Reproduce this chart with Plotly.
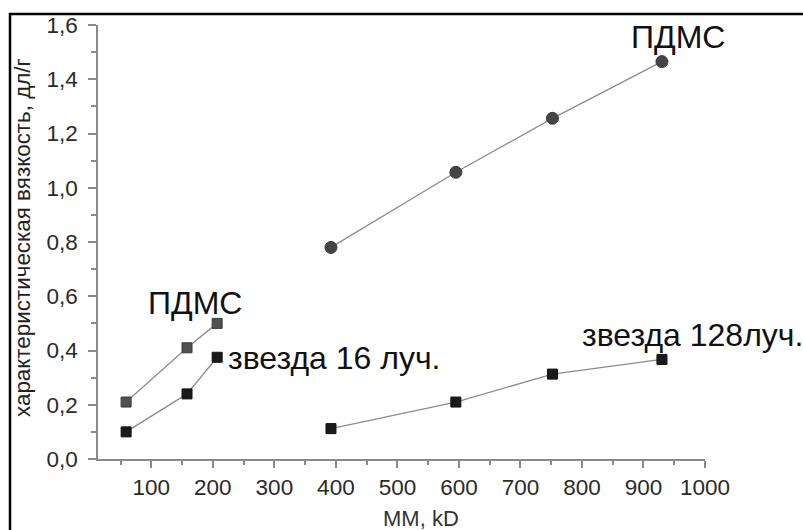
import plotly.graph_objects as go

# ---- data ----
mm_small = [59, 158, 207]
pdms_small = [0.21, 0.41, 0.50]
star16 = [0.10, 0.24, 0.375]

mm_large = [392, 595, 752, 930]
pdms_large = [0.78, 1.057, 1.256, 1.465]
star128 = [0.112, 0.21, 0.313, 0.367]

x_ticks = [100, 200, 300, 400, 500, 600, 700, 800, 900, 1000]
x_ticktext = ["100", "200", "300", "400", "500", "600", "700", "800", "900", "1000"]
y_ticks = [0.0, 0.2, 0.4, 0.6, 0.8, 1.0, 1.2, 1.4, 1.6]
y_ticktext = ["0,0", "0,2", "0,4", "0,6", "0,8", "1,0", "1,2", "1,4", "1,6"]

labels = ["ПДМС", "звезда 16 луч.", "ПДМС", "звезда 128луч."]
x_title = "MM, kD"
y_title = "характеристическая вязкость, дл/г"

# ---- layout geometry (pixels) ----
W, H = 803, 530
L, R, T, B = 98, 705, 25, 459


def px(x):
    return (x - L) / (R - L)


def py(y):
    return (B - y) / (B - T)


FONT = "Liberation Sans, Arial, sans-serif"
LINE = "#8c8c8c"

fig = go.Figure()

fig.add_trace(go.Scatter(
    x=mm_small, y=pdms_small, mode="lines+markers",
    line=dict(color=LINE, width=1.3),
    marker=dict(symbol="square", size=10, color="#505050",
                line=dict(color="#3a3a3a", width=1)),
    showlegend=False, cliponaxis=False))
fig.add_trace(go.Scatter(
    x=mm_small, y=star16, mode="lines+markers",
    line=dict(color=LINE, width=1.3),
    marker=dict(symbol="square", size=10, color="#1a1a1a",
                line=dict(color="#111111", width=1)),
    showlegend=False, cliponaxis=False))
fig.add_trace(go.Scatter(
    x=mm_large, y=pdms_large, mode="lines+markers",
    line=dict(color=LINE, width=1.3),
    marker=dict(symbol="circle", size=12, color="#454545",
                line=dict(color="#3a3a3a", width=1)),
    showlegend=False, cliponaxis=False))
fig.add_trace(go.Scatter(
    x=mm_large, y=star128, mode="lines+markers",
    line=dict(color=LINE, width=1.3),
    marker=dict(symbol="square", size=10, color="#1a1a1a",
                line=dict(color="#111111", width=1)),
    showlegend=False, cliponaxis=False))

axis_common = dict(
    showgrid=False, zeroline=False, showline=True,
    linecolor="#8a8a8a", linewidth=1.5,
    ticks="outside", tickcolor="#8a8a8a", tickwidth=1.5,
    tickfont=dict(family=FONT, size=22.5, color="#2a2a2a"),
)

fig.update_xaxes(
    range=[13.3, 1000], tickmode="array", tickvals=x_ticks, ticktext=x_ticktext,
    ticklen=7,
    minor=dict(dtick=50, tick0=0, ticks="outside", ticklen=4,
               tickcolor="#8a8a8a", tickwidth=1.5),
    **axis_common)
fig.update_yaxes(
    range=[0, 1.6], tickmode="array", tickvals=y_ticks, ticktext=y_ticktext,
    ticklen=8, ticklabelstandoff=6,
    minor=dict(dtick=0.1, tick0=0, ticks="outside", ticklen=5,
               tickcolor="#8a8a8a", tickwidth=1.5),
    **axis_common)

ann_font = dict(family=FONT, size=32, color="#111111")
annotations = [
    dict(text=labels[0], x=px(195), y=py(303), xanchor="center", yanchor="middle"),
    dict(text=labels[1], x=px(226), y=py(358), xanchor="left", yanchor="middle"),
    dict(text=labels[2], x=px(678), y=py(37), xanchor="center", yanchor="middle"),
    dict(text=labels[3], x=px(580), y=py(335), xanchor="left", yanchor="middle"),
]
for a in annotations:
    a.update(xref="paper", yref="paper", showarrow=False, font=ann_font)

annotations.append(dict(
    text=x_title, x=px(421), y=py(518), xref="paper", yref="paper",
    xanchor="center", yanchor="middle", showarrow=False,
    font=dict(family=FONT, size=22, color="#333333")))
annotations.append(dict(
    text=y_title, x=px(22), y=py(238), xref="paper", yref="paper",
    xanchor="center", yanchor="middle", showarrow=False, textangle=-90,
    font=dict(family=FONT, size=22.4, color="#222222")))

fig.update_layout(
    width=W, height=H,
    margin=dict(l=L, r=W - R, t=T, b=H - B),
    paper_bgcolor="white", plot_bgcolor="white",
    annotations=annotations,
    shapes=[dict(type="rect", xref="paper", yref="paper",
                 x0=px(10), y0=py(14), x1=px(820), y1=py(550),
                 line=dict(color="black", width=2.5), fillcolor="rgba(0,0,0,0)",
                 layer="below")],
)

fig.write_html("out.html", config={"displayModeBar": False},
               post_script="document.body.style.margin='0px';")
